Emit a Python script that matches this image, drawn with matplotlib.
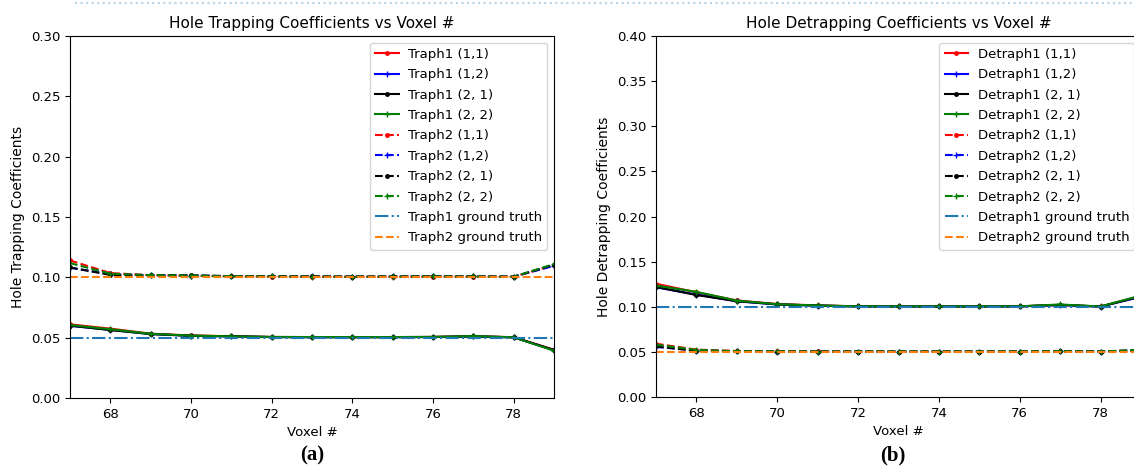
import matplotlib
matplotlib.use("Agg")
import matplotlib.pyplot as plt
from matplotlib.lines import Line2D
import numpy as np

voxels = np.arange(67, 80)

# Hole trapping (a)
traph1_11 = [0.061, 0.0575, 0.0533, 0.0518, 0.0512, 0.0506, 0.0505, 0.0505, 0.0505, 0.0506, 0.0512, 0.0504, 0.0400]
traph1_12 = [0.0598, 0.0565, 0.0530, 0.0515, 0.0510, 0.0505, 0.0504, 0.0504, 0.0504, 0.0505, 0.0510, 0.0503, 0.0395]
traph1_21 = [0.0600, 0.0563, 0.0530, 0.0516, 0.0512, 0.0505, 0.0505, 0.0504, 0.0505, 0.0506, 0.0511, 0.0503, 0.0398]
traph1_22 = [0.0605, 0.0570, 0.0532, 0.0517, 0.0511, 0.0506, 0.0505, 0.0505, 0.0505, 0.0506, 0.0513, 0.0503, 0.0392]
traph2_11 = [0.1140, 0.1035, 0.1018, 0.1013, 0.1008, 0.1006, 0.1005, 0.1004, 0.1005, 0.1006, 0.1006, 0.1005, 0.1100]
traph2_12 = [0.1080, 0.1025, 0.1018, 0.1015, 0.1010, 0.1008, 0.1007, 0.1006, 0.1007, 0.1008, 0.1008, 0.1006, 0.1095]
traph2_21 = [0.1082, 0.1020, 0.1016, 0.1016, 0.1010, 0.1008, 0.1008, 0.1006, 0.1007, 0.1008, 0.1007, 0.1005, 0.1105]
traph2_22 = [0.1118, 0.1030, 0.1018, 0.1014, 0.1009, 0.1007, 0.1006, 0.1005, 0.1006, 0.1007, 0.1007, 0.1005, 0.1110]
traph1_gt = 0.05
traph2_gt = 0.10

# Hole detrapping (b)
detraph1_11 = [0.1255, 0.1160, 0.1070, 0.1030, 0.1015, 0.1005, 0.1004, 0.1004, 0.1004, 0.1005, 0.1020, 0.1003, 0.1120]
detraph1_12 = [0.1215, 0.1135, 0.1060, 0.1025, 0.1012, 0.1004, 0.1003, 0.1003, 0.1003, 0.1004, 0.1018, 0.1002, 0.1110]
detraph1_21 = [0.1220, 0.1130, 0.1062, 0.1027, 0.1013, 0.1004, 0.1003, 0.1003, 0.1003, 0.1004, 0.1022, 0.1002, 0.1115]
detraph1_22 = [0.1235, 0.1165, 0.1068, 0.1028, 0.1014, 0.1005, 0.1004, 0.1004, 0.1004, 0.1005, 0.1025, 0.1003, 0.1125]
detraph2_11 = [0.0590, 0.0525, 0.0510, 0.0505, 0.0505, 0.0504, 0.0504, 0.0504, 0.0504, 0.0504, 0.0507, 0.0504, 0.0520]
detraph2_12 = [0.0555, 0.0515, 0.0506, 0.0504, 0.0503, 0.0503, 0.0503, 0.0503, 0.0503, 0.0503, 0.0505, 0.0503, 0.0518]
detraph2_21 = [0.0560, 0.0512, 0.0505, 0.0503, 0.0503, 0.0503, 0.0503, 0.0503, 0.0503, 0.0503, 0.0505, 0.0503, 0.0517]
detraph2_22 = [0.0580, 0.0522, 0.0508, 0.0505, 0.0504, 0.0504, 0.0504, 0.0504, 0.0504, 0.0504, 0.0507, 0.0504, 0.0522]
detraph1_gt = 0.10
detraph2_gt = 0.05

styles = [("red", "."), ("blue", "+"), ("black", "."), ("green", "+")]
labels_idx = ["(1,1)", "(1,2)", "(2, 1)", "(2, 2)"]

plt.rcParams["font.family"] = "DejaVu Sans"
fig = plt.figure(figsize=(11.34, 4.67), dpi=100)


def draw_panel(ax, name, s1, s2, gt1, gt2, ymax, title, ylabel):
    for (col, mk), lab, y in zip(styles, labels_idx, s1):
        ax.plot(voxels, y, color=col, marker=mk, markersize=5, linestyle="-", label=f"{name}1 {lab}")
    for (col, mk), lab, y in zip(styles, labels_idx, s2):
        ax.plot(voxels, y, color=col, marker=mk, markersize=5, linestyle="--", label=f"{name}2 {lab}")
    ax.axhline(gt1, color="tab:blue", linestyle="-.", label=f"{name}1 ground truth")
    ax.axhline(gt2, color="tab:orange", linestyle="--", label=f"{name}2 ground truth")
    ax.set_xlim(67, 79)
    ax.set_ylim(0, ymax)
    ax.set_xticks([68, 70, 72, 74, 76, 78])
    ax.set_title(title, fontsize=11)
    ax.set_xlabel("Voxel #", fontsize=9.5)
    ax.set_ylabel(ylabel, fontsize=10)
    ax.tick_params(labelsize=9.5)
    ax.legend(loc="upper right", fontsize=9.5, labelspacing=0.56, handlelength=1.8,
              handletextpad=0.7)


W, H = 1134, 467
ax1 = fig.add_axes([70 / W, (H - 398) / H, 484 / W, 362 / H])
ax2 = fig.add_axes([656 / W, (H - 397) / H, 485 / W, 361 / H])

draw_panel(ax1, "Traph", [traph1_11, traph1_12, traph1_21, traph1_22],
           [traph2_11, traph2_12, traph2_21, traph2_22], traph1_gt, traph2_gt,
           0.30, "Hole Trapping Coefficients vs Voxel #", "Hole Trapping Coefficients")
draw_panel(ax2, "Detraph", [detraph1_11, detraph1_12, detraph1_21, detraph1_22],
           [detraph2_11, detraph2_12, detraph2_21, detraph2_22], detraph1_gt, detraph2_gt,
           0.40, "Hole Detrapping Coefficients vs Voxel #", "Hole Detrapping Coefficients")

fig.text(312 / W, 1 - 455 / H, "(a)", ha="center", va="center", fontsize=15,
         fontweight="bold", family="Liberation Serif")
fig.text(893 / W, 1 - 455 / H, "(b)", ha="center", va="center", fontsize=15,
         fontweight="bold", family="Liberation Serif")

fig.lines.append(Line2D([75 / W, 1.0], [1 - 3 / H, 1 - 3 / H], transform=fig.transFigure,
                        color="#b9d3e6", linestyle=":", linewidth=1.5))

fig.savefig("out.png", dpi=100)
